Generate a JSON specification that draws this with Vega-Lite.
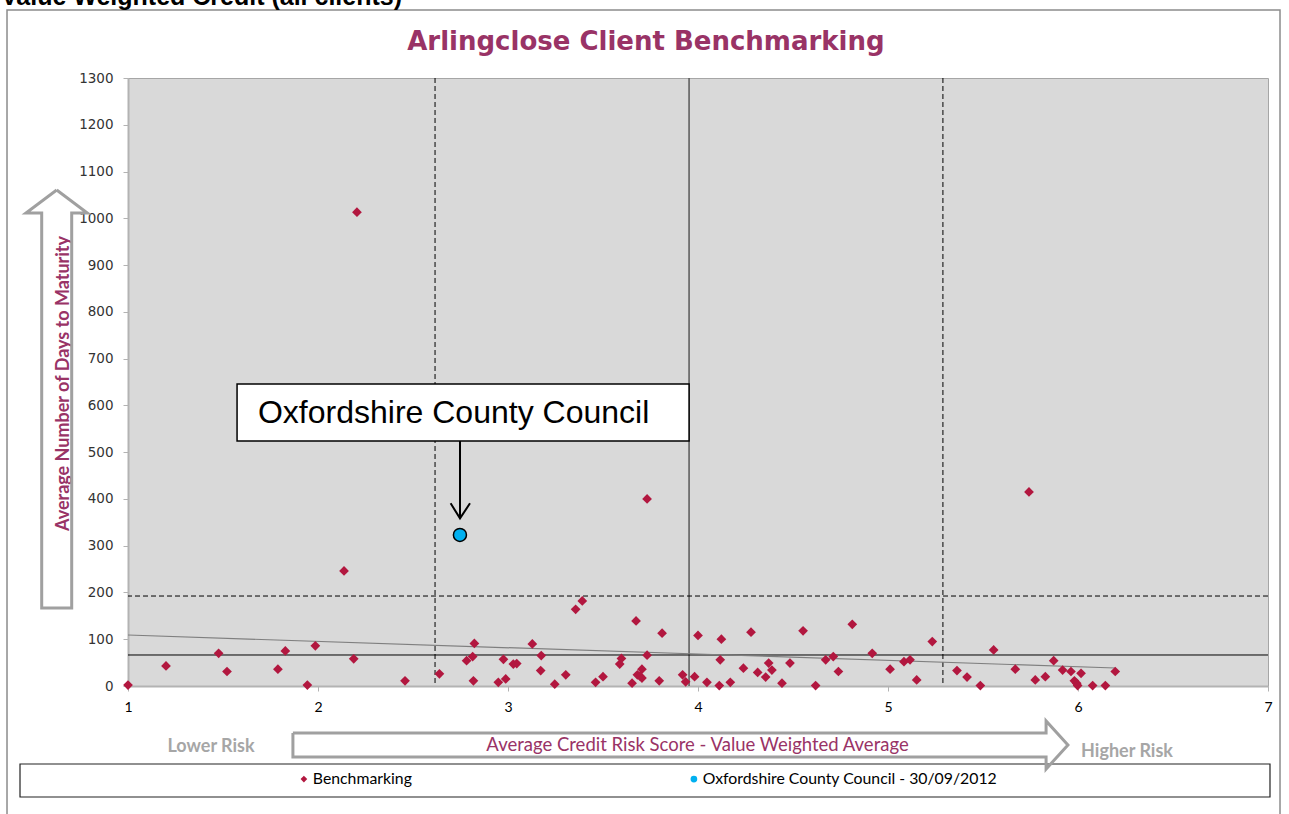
{
  "$schema": "https://vega.github.io/schema/vega-lite/v6.json",
  "width": 1140,
  "height": 608,
  "autosize": {"type": "none"},
  "padding": {"left": 128, "top": 78, "right": 21, "bottom": 128},
  "background": "white",
  "config": {
    "view": {"fill": "#d9d9d9", "stroke": "#a6a6a6", "strokeWidth": 1},
    "font": "DejaVu Sans",
    "axisX": {
      "grid": false, "domainColor": "#b3b3b3", "domainWidth": 2,
      "tickColor": "#b3b3b3", "tickSize": 5, "tickWidth": 1, "labelFont": "Lato",
      "labelFontSize": 14, "labelColor": "#000000", "labelPadding": 9, "labelFlush": false,
      "titleFont": "Lato", "titleFontSize": 18.5, "titleFontWeight": "normal", "titleColor": "#993366",
      "titleX": 569, "titleY": 58, "titleBaseline": "middle", "titleAnchor": null, "titleAlign": "center", "zindex": 1
    },
    "axisY": {
      "grid": false,
      "domainColor": "#b3b3b3", "domainWidth": 2, "tickColor": "#b3b3b3", "tickSize": 5, "tickWidth": 1,
      "labelFont": "DejaVu Sans", "labelFontSize": 13.5, "labelColor": "#333333", "labelPadding": 10,
      "titleFont": "Lato", "titleFontSize": 18, "titleFontWeight": "bold", "titleColor": "#993366",
      "titleX": -65, "titleY": 305, "titleBaseline": "middle", "titleAnchor": null, "titleAlign": "center", "titleAngle": 270, "zindex": 1
    },
    "legend": {
      "orient": "none", "legendX": 168, "legendY": 693, "direction": "horizontal", "title": null,
      "labelFont": "Lato", "labelFontSize": 15.8, "labelColor": "#000000", "labelLimit": 500,
      "symbolSize": 45, "symbolStrokeWidth": 0, "columnPadding": 274, "labelOffset": 1
    }
  },
  "datasets": {
    "bench": [
      {"x": 1.0, "y": 2}, {"x": 1.2, "y": 43}, {"x": 1.477, "y": 70}, {"x": 1.521, "y": 31}, {"x": 1.789, "y": 36},
      {"x": 1.828, "y": 75}, {"x": 1.944, "y": 2}, {"x": 1.986, "y": 86}, {"x": 2.137, "y": 246}, {"x": 2.188, "y": 58},
      {"x": 2.205, "y": 1013}, {"x": 2.458, "y": 11}, {"x": 2.639, "y": 26}, {"x": 2.782, "y": 54}, {"x": 2.814, "y": 63},
      {"x": 2.823, "y": 91}, {"x": 2.818, "y": 11}, {"x": 2.949, "y": 8}, {"x": 2.988, "y": 15}, {"x": 2.976, "y": 57},
      {"x": 3.028, "y": 47}, {"x": 3.046, "y": 48}, {"x": 3.128, "y": 90}, {"x": 3.175, "y": 65}, {"x": 3.172, "y": 33},
      {"x": 3.246, "y": 4}, {"x": 3.304, "y": 24}, {"x": 3.356, "y": 164}, {"x": 3.391, "y": 182}, {"x": 3.461, "y": 8},
      {"x": 3.5, "y": 20}, {"x": 3.588, "y": 47}, {"x": 3.597, "y": 59}, {"x": 3.674, "y": 139}, {"x": 3.653, "y": 6},
      {"x": 3.681, "y": 24}, {"x": 3.695, "y": 21}, {"x": 3.705, "y": 36}, {"x": 3.705, "y": 17}, {"x": 3.732, "y": 66},
      {"x": 3.732, "y": 400}, {"x": 3.796, "y": 11}, {"x": 3.811, "y": 113}, {"x": 3.919, "y": 24}, {"x": 3.935, "y": 9},
      {"x": 3.982, "y": 20}, {"x": 4.0, "y": 108}, {"x": 4.047, "y": 8}, {"x": 4.112, "y": 1}, {"x": 4.117, "y": 56},
      {"x": 4.123, "y": 100}, {"x": 4.17, "y": 8}, {"x": 4.239, "y": 38}, {"x": 4.279, "y": 115}, {"x": 4.314, "y": 29},
      {"x": 4.356, "y": 19}, {"x": 4.372, "y": 49}, {"x": 4.389, "y": 34}, {"x": 4.442, "y": 6}, {"x": 4.484, "y": 49},
      {"x": 4.553, "y": 118}, {"x": 4.619, "y": 1}, {"x": 4.672, "y": 56}, {"x": 4.712, "y": 63}, {"x": 4.739, "y": 31},
      {"x": 4.812, "y": 132}, {"x": 4.917, "y": 70}, {"x": 5.011, "y": 36}, {"x": 5.084, "y": 52}, {"x": 5.116, "y": 56},
      {"x": 5.151, "y": 13}, {"x": 5.233, "y": 95}, {"x": 5.363, "y": 33}, {"x": 5.416, "y": 19}, {"x": 5.486, "y": 1},
      {"x": 5.556, "y": 77}, {"x": 5.67, "y": 36}, {"x": 5.742, "y": 415}, {"x": 5.775, "y": 13}, {"x": 5.828, "y": 20},
      {"x": 5.872, "y": 54}, {"x": 5.919, "y": 34}, {"x": 5.963, "y": 31}, {"x": 5.981, "y": 11}, {"x": 5.993, "y": 6},
      {"x": 5.998, "y": 1}, {"x": 6.016, "y": 27}, {"x": 6.077, "y": 1}, {"x": 6.144, "y": 1}, {"x": 6.196, "y": 31}
    ],
    "oxford": [{"x": 2.747, "y": 323}],
    "trend": [{"x": 1.0, "y": 109}, {"x": 6.196, "y": 38.5}],
    "vdash": [{"x": 2.616}, {"x": 5.289}],
    "vsolid": [{"x": 3.953}],
    "hdash": [{"y": 192.4}],
    "hsolid": [{"y": 66.3}],
    "frame": [{"x1": 0.3632, "x2": 7.0632, "y1": 1445.4, "y2": -307.9}],
    "legendbox": [{"x1": 0.4316, "x2": 7.0105, "y1": -166.8, "y2": -237.3}],
    "calloutbox": [{"x1": 1.574, "x2": 3.953, "y1": 523.8, "y2": 645.7}],
    "callouttext": [{"x": 1.684, "y": 583.7, "label": "Oxfordshire County Council"}],
    "calloutarrow": [
      {"part": "shaft", "i": 1, "x": 2.7474, "y": 523.8}, {"part": "shaft", "i": 2, "x": 2.7474, "y": 358.6},
      {"part": "head", "i": 1, "x": 2.698, "y": 390.6}, {"part": "head", "i": 2, "x": 2.7474, "y": 358.6},
      {"part": "head", "i": 3, "x": 2.8, "y": 390.6}
    ],
    "varrow": [
      {"i": 1, "x": 0.6247, "y": 1060.5}, {"i": 2, "x": 0.7858, "y": 1011.4}, {"i": 3, "x": 0.7037, "y": 1011.4},
      {"i": 4, "x": 0.7037, "y": 166.8}, {"i": 5, "x": 0.5458, "y": 166.8}, {"i": 6, "x": 0.5458, "y": 1011.4},
      {"i": 7, "x": 0.4632, "y": 1011.4}, {"i": 8, "x": 0.6247, "y": 1060.5}
    ],
    "harrow": [
      {"i": 1, "x": 1.868, "y": -100.5}, {"i": 2, "x": 5.832, "y": -100.5}, {"i": 3, "x": 5.832, "y": -74.8},
      {"i": 4, "x": 5.947, "y": -126.2}, {"i": 5, "x": 5.832, "y": -177.5}, {"i": 6, "x": 5.832, "y": -151.8},
      {"i": 7, "x": 1.868, "y": -151.8}, {"i": 8, "x": 1.868, "y": -100.5}
    ],
    "risk": [
      {"x": 1.437, "y": -130.5, "label": "Lower Risk"},
      {"x": 6.258, "y": -141.0, "label": "Higher Risk"}
    ],
    "maintitle": [{"x": 3.726, "y": 1377, "label": "Arlingclose Client Benchmarking"}],
    "header": [{"x": 0.3316, "y": 1456.1, "label": "Value Weighted Credit (all clients)"}]
  },
  "layer": [
    {
      "data": {"name": "frame"},
      "mark": {"type": "rect", "fill": null, "fillOpacity": 0, "stroke": "#8c8c8c", "strokeWidth": 1.5},
      "encoding": {
        "x": {"field": "x1", "type": "quantitative", "scale": {"domain": [1, 7], "nice": false, "zero": false}},
        "x2": {"field": "x2"},
        "y": {"field": "y1", "type": "quantitative", "scale": {"domain": [0, 1300], "nice": false, "zero": false}},
        "y2": {"field": "y2"}
      }
    },
    {
      "data": {"name": "legendbox"},
      "mark": {"type": "rect", "fill": "white", "stroke": "#222222", "strokeWidth": 1.2},
      "encoding": {
        "x": {"field": "x1", "type": "quantitative", "scale": {"domain": [1, 7]}},
        "x2": {"field": "x2"},
        "y": {"field": "y1", "type": "quantitative", "scale": {"domain": [0, 1300]}},
        "y2": {"field": "y2"}
      }
    },
    {
      "data": {"name": "varrow"},
      "mark": {"type": "line", "stroke": "#a0a0a0", "strokeWidth": 3, "strokeJoin": "miter"},
      "encoding": {
        "x": {"field": "x", "type": "quantitative", "scale": {"domain": [1, 7]}},
        "y": {"field": "y", "type": "quantitative", "scale": {"domain": [0, 1300]}},
        "order": {"field": "i"}
      }
    },
    {
      "data": {"name": "harrow"},
      "mark": {"type": "line", "stroke": "#a0a0a0", "strokeWidth": 3, "strokeJoin": "miter"},
      "encoding": {
        "x": {"field": "x", "type": "quantitative", "scale": {"domain": [1, 7]}},
        "y": {"field": "y", "type": "quantitative", "scale": {"domain": [0, 1300]}},
        "order": {"field": "i"}
      }
    },
    {
      "data": {"name": "risk"},
      "mark": {"type": "text", "font": "Lato", "fontSize": 18, "fontWeight": "bold", "color": "#a6a6a6", "align": "center", "baseline": "middle"},
      "encoding": {
        "x": {"field": "x", "type": "quantitative", "scale": {"domain": [1, 7]}},
        "y": {"field": "y", "type": "quantitative", "scale": {"domain": [0, 1300]}},
        "text": {"field": "label"}
      }
    },
    {
      "data": {"name": "header"},
      "mark": {"type": "text", "font": "Liberation Sans", "fontSize": 25, "fontWeight": "bold", "color": "#000000", "align": "left", "baseline": "alphabetic"},
      "encoding": {
        "x": {"field": "x", "type": "quantitative", "scale": {"domain": [1, 7]}},
        "y": {"field": "y", "type": "quantitative", "scale": {"domain": [0, 1300]}},
        "text": {"field": "label"}
      }
    },
    {
      "data": {"name": "maintitle"},
      "mark": {"type": "text", "font": "DejaVu Sans", "fontSize": 26, "fontWeight": "bold", "color": "#993366", "align": "center", "baseline": "middle"},
      "encoding": {
        "x": {"field": "x", "type": "quantitative", "scale": {"domain": [1, 7]}},
        "y": {"field": "y", "type": "quantitative", "scale": {"domain": [0, 1300]}},
        "text": {"field": "label"}
      }
    },
    {
      "data": {"name": "vdash"},
      "mark": {"type": "rule", "color": "#000000", "strokeWidth": 1, "strokeDash": [5, 3]},
      "encoding": {"x": {"field": "x", "type": "quantitative", "scale": {"domain": [1, 7]}}}
    },
    {
      "data": {"name": "vsolid"},
      "mark": {"type": "rule", "color": "#595959", "strokeWidth": 1.5},
      "encoding": {"x": {"field": "x", "type": "quantitative", "scale": {"domain": [1, 7]}}}
    },
    {
      "data": {"name": "hdash"},
      "mark": {"type": "rule", "color": "#000000", "strokeWidth": 1, "strokeDash": [5, 3]},
      "encoding": {"y": {"field": "y", "type": "quantitative", "scale": {"domain": [0, 1300]}}}
    },
    {
      "data": {"name": "hsolid"},
      "mark": {"type": "rule", "color": "#000000", "strokeWidth": 1},
      "encoding": {"y": {"field": "y", "type": "quantitative", "scale": {"domain": [0, 1300]}}}
    },
    {
      "data": {"name": "trend"},
      "mark": {"type": "line", "color": "#7f7f7f", "strokeWidth": 1.2},
      "encoding": {
        "x": {"field": "x", "type": "quantitative", "scale": {"domain": [1, 7]}},
        "y": {"field": "y", "type": "quantitative", "scale": {"domain": [0, 1300]}}
      }
    },
    {
      "data": {"name": "bench"},
      "transform": [{"calculate": "'Benchmarking'", "as": "series"}],
      "mark": {"type": "point", "filled": true, "shape": "diamond", "size": 95, "opacity": 1},
      "encoding": {
        "x": {"field": "x", "type": "quantitative", "scale": {"domain": [1, 7], "nice": false, "zero": false}, "title": "Average Credit Risk Score - Value Weighted Average", "axis": {"values": [1, 2, 3, 4, 5, 6, 7], "format": "d"}},
        "y": {"field": "y", "type": "quantitative", "scale": {"domain": [0, 1300], "nice": false, "zero": false}, "title": "Average Number of Days to Maturity", "axis": {"values": [0, 100, 200, 300, 400, 500, 600, 700, 800, 900, 1000, 1100, 1200, 1300], "format": "d"}},
        "color": {"field": "series", "type": "nominal", "scale": {"domain": ["Benchmarking", "Oxfordshire County Council - 30/09/2012"], "range": ["#b2173f", "#00b0f0"]}},
        "shape": {"field": "series", "type": "nominal", "scale": {"domain": ["Benchmarking", "Oxfordshire County Council - 30/09/2012"], "range": ["diamond", "circle"]}}
      }
    },
    {
      "data": {"name": "calloutbox"},
      "mark": {"type": "rect", "fill": "white", "stroke": "#000000", "strokeWidth": 1.5},
      "encoding": {
        "x": {"field": "x1", "type": "quantitative", "scale": {"domain": [1, 7]}},
        "x2": {"field": "x2"},
        "y": {"field": "y1", "type": "quantitative", "scale": {"domain": [0, 1300]}},
        "y2": {"field": "y2"}
      }
    },
    {
      "data": {"name": "callouttext"},
      "mark": {"type": "text", "font": "Liberation Sans", "fontSize": 32, "color": "#000000", "align": "left", "baseline": "middle"},
      "encoding": {
        "x": {"field": "x", "type": "quantitative", "scale": {"domain": [1, 7]}},
        "y": {"field": "y", "type": "quantitative", "scale": {"domain": [0, 1300]}},
        "text": {"field": "label"}
      }
    },
    {
      "data": {"name": "calloutarrow"},
      "mark": {"type": "line", "color": "#000000", "strokeWidth": 2},
      "encoding": {
        "x": {"field": "x", "type": "quantitative", "scale": {"domain": [1, 7]}},
        "y": {"field": "y", "type": "quantitative", "scale": {"domain": [0, 1300]}},
        "detail": {"field": "part"},
        "order": {"field": "i"}
      }
    },
    {
      "data": {"name": "oxford"},
      "transform": [{"calculate": "'Oxfordshire County Council - 30/09/2012'", "as": "series"}],
      "mark": {"type": "point", "filled": true, "size": 170, "stroke": "#000000", "strokeWidth": 1.5, "opacity": 1},
      "encoding": {
        "x": {"field": "x", "type": "quantitative", "scale": {"domain": [1, 7]}},
        "y": {"field": "y", "type": "quantitative", "scale": {"domain": [0, 1300]}},
        "color": {"field": "series", "type": "nominal", "scale": {"domain": ["Benchmarking", "Oxfordshire County Council - 30/09/2012"], "range": ["#b2173f", "#00b0f0"]}},
        "shape": {"field": "series", "type": "nominal", "scale": {"domain": ["Benchmarking", "Oxfordshire County Council - 30/09/2012"], "range": ["diamond", "circle"]}}
      }
    }
  ]
}
